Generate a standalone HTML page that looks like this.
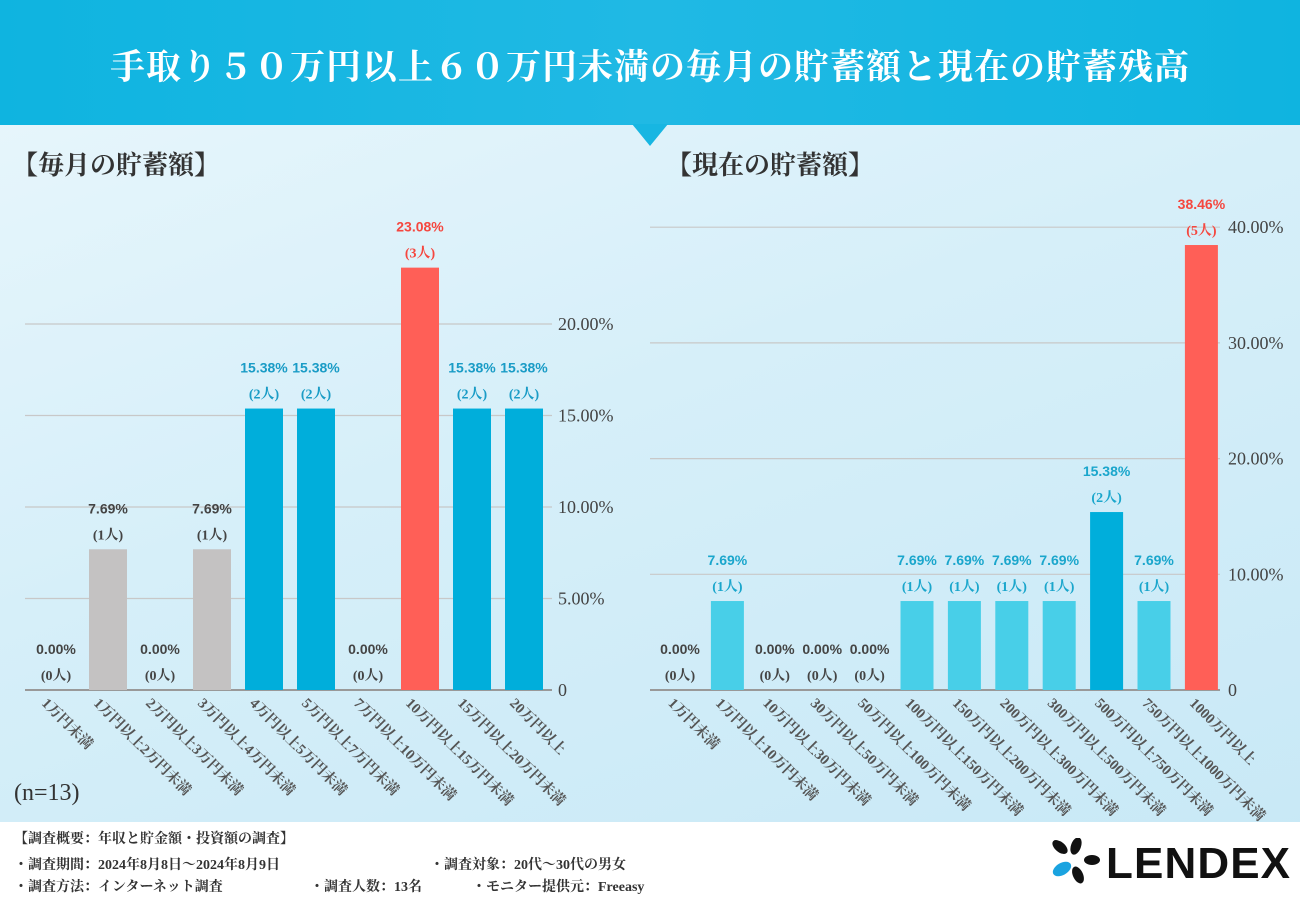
<!DOCTYPE html>
<html><head><meta charset="utf-8">
<style>
body{margin:0;width:1300px;height:900px;overflow:hidden;font-family:"Liberation Serif","Noto Serif CJK SC",serif;}
#root{position:relative;width:1300px;height:900px;background:linear-gradient(160deg,#eaf7fc 0%,#d6eff9 45%,#c7e8f6 100%);}
#banner{position:absolute;left:0;top:0;width:1300px;height:125px;background:linear-gradient(90deg,#0fb4e0,#20b9e4 50%,#0fb4e0);}
#notch{position:absolute;left:632px;top:124px;width:0;height:0;border-left:18px solid transparent;border-right:18px solid transparent;border-top:22px solid #17b6e2;}
#title{position:absolute;left:0;top:40px;width:1300px;text-align:center;color:#fff;font-size:35px;font-weight:bold;letter-spacing:1px;}
.h{position:absolute;font-size:26px;font-weight:bold;color:#333;}
#footer{position:absolute;left:0;top:822px;width:1300px;height:78px;background:#fff;}
.ft{position:absolute;font-size:14px;color:#333;font-weight:bold;white-space:nowrap;}
svg text{font-family:"Liberation Serif","Noto Serif CJK SC",serif;}
</style></head><body>
<div id="root">
<div id="banner"></div>
<div id="notch"></div>
<div id="title">手取り５０万円以上６０万円未満の毎月の貯蓄額と現在の貯蓄残高</div>
<div class="h" style="left:12px;top:145px">【毎月の貯蓄額】</div>
<div class="h" style="left:666px;top:145px">【現在の貯蓄額】</div>
<div class="h" style="left:14px;top:780px;font-weight:normal;font-size:24px">(n=13)</div>
<svg id="chart" width="1300" height="900" style="position:absolute;left:0;top:0"></svg>
<div id="footer">
<div class="ft" style="left:14px;top:6px">【調査概要：年収と貯金額・投資額の調査】</div>
<div class="ft" style="left:14px;top:32px">・調査期間：2024年8月8日〜2024年8月9日</div>
<div class="ft" style="left:430px;top:32px">・調査対象：20代〜30代の男女</div>
<div class="ft" style="left:14px;top:54px">・調査方法：インターネット調査</div>
<div class="ft" style="left:310px;top:54px">・調査人数：13名</div>
<div class="ft" style="left:472px;top:54px">・モニター提供元：Freeasy</div>
<svg style="position:absolute;left:1048px;top:16px" width="250" height="48">
<ellipse cx="12" cy="9" rx="5" ry="9" transform="rotate(-50 12 9)" fill="#111"/>
<ellipse cx="28" cy="8" rx="5" ry="9" transform="rotate(20 28 8)" fill="#111"/>
<ellipse cx="44" cy="22" rx="5" ry="8" transform="rotate(90 44 22)" fill="#111"/>
<ellipse cx="14" cy="31" rx="6" ry="10" transform="rotate(60 14 31)" fill="#1aa3e0"/>
<ellipse cx="30" cy="37" rx="5" ry="9" transform="rotate(-25 30 37)" fill="#111"/>
<text x="58" y="40" font-family="Liberation Sans" font-weight="bold" font-size="44" fill="#111" style="font-family:'Liberation Sans',sans-serif" textLength="184">LENDEX</text>
</svg>
</div>
</div>
<script>
const leftCats=["1万円未満","1万円以上2万円未満","2万円以上3万円未満","3万円以上4万円未満","4万円以上5万円未満","5万円以上7万円未満","7万円以上10万円未満","10万円以上15万円未満","15万円以上20万円未満","20万円以上"];
const leftVals=[0,7.69,0,7.69,15.38,15.38,0,23.08,15.38,15.38];
const leftCounts=[0,1,0,1,2,2,0,3,2,2];
const leftTicks=[0,5,10,15,20];
const rightCats=["1万円未満","1万円以上10万円未満","10万円以上30万円未満","30万円以上50万円未満","50万円以上100万円未満","100万円以上150万円未満","150万円以上200万円未満","200万円以上300万円未満","300万円以上500万円未満","500万円以上750万円未満","750万円以上1000万円未満","1000万円以上"];
const rightVals=[0,7.69,0,0,0,7.69,7.69,7.69,7.69,15.38,7.69,38.46];
const rightCounts=[0,1,0,0,0,1,1,1,1,2,1,5];
const rightTicks=[0,10,20,30,40];

const svg=document.getElementById('chart');
const NS='http://www.w3.org/2000/svg';
function mk(tag,attrs){const e=document.createElementNS(NS,tag);for(const k in attrs)e.setAttribute(k,attrs[k]);svg.appendChild(e);return e;}
function draw(cfg){
  const {cats,vals,counts,ticks,x0,x1,base,pxPer,c0,step,bw,tickX,colorFn,labColor,prefix}=cfg;
  const y=v=>base-v*pxPer;
  ticks.forEach((t,i)=>{
    const l=mk('line',{x1:x0,x2:x1,y1:y(t),y2:y(t),stroke:t===0?'#999':'#c8c8c8','stroke-width':t===0?2:1.2});
    
    
    const tx=mk('text',{x:tickX,y:y(t)+6,'font-size':18,fill:'#444'});
    tx.textContent=t===0?'0':t.toFixed(2)+'%';
    
    
  });
  vals.forEach((v,i)=>{
    const cx=c0+step*i;
    const r=mk('rect',{x:cx-bw/2,y:y(v),width:bw,height:v*pxPer,fill:colorFn(v,i)});
    
    
    const lc=labColor(v,i);
    const t1=mk('text',{x:cx,y:y(v)-36,'text-anchor':'middle','font-size':14,'font-weight':'bold',fill:lc,style:'font-family:"Liberation Sans",sans-serif'});
    t1.textContent=v.toFixed(2)+'%';
    
    
    const t2=mk('text',{x:cx,y:y(v)-10,'text-anchor':'middle','font-size':14,'font-weight':'bold',fill:lc});
    t2.textContent='('+counts[i]+'人)';
    
    
    const cl=mk('text',{x:cx-bw/2+4,y:base+14,'font-size':14.5,'font-weight':'bold',fill:'#555',transform:`rotate(45 ${cx-bw/2+4} ${base+14})`});
    cl.textContent=cats[i];
    
    
  });
}
draw({cats:leftCats,vals:leftVals,counts:leftCounts,ticks:leftTicks,x0:25,x1:552,base:690,pxPer:18.3,c0:56,step:52,bw:38,tickX:558,prefix:'left',
  colorFn:(v,i)=>{const m=Math.max(...leftVals);return v===m?'#ff5f57':(v>=15?'#00aedb':'#c4c2c2');},
  labColor:(v,i)=>{const m=Math.max(...leftVals);return v===m?'#f5473f':(v>=15?'#1a9cc6':'#444');}});
draw({cats:rightCats,vals:rightVals,counts:rightCounts,ticks:rightTicks,x0:650,x1:1220,base:690,pxPer:11.57,c0:680,step:47.4,bw:33,tickX:1228,prefix:'right',
  colorFn:(v,i)=>{const m=Math.max(...rightVals);return v===m?'#ff5f57':(v>=15?'#00aedb':'#48cfe8');},
  labColor:(v,i)=>{const m=Math.max(...rightVals);return v===m?'#f5473f':(v>0?'#1aa6cc':'#444');}});
</script>
</body></html>
